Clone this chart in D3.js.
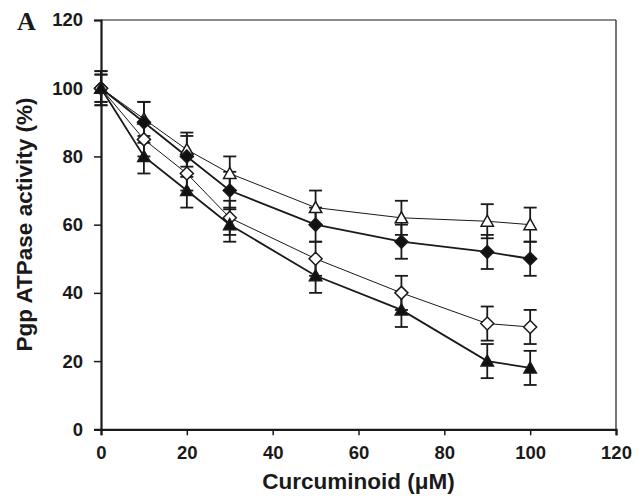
<!DOCTYPE html>
<html><head><meta charset="utf-8">
<script src="https://cdn.jsdelivr.net/npm/d3@7"></script>
<style>body{margin:0;background:#fff}svg{display:block}</style>
</head><body><svg id="c" width="642" height="496"></svg>
<script>
const concentrations = [0, 10, 20, 30, 50, 70, 90, 100];
const openTriangle = [100, 91, 82, 75, 65, 62, 61, 60];
const openTriangleErr = [5, 5, 5, 5, 5, 5, 5, 5];
const filledDiamond = [100, 90, 80, 70, 60, 55, 52, 50];
const filledDiamondErr = [5, 6, 6, 5.5, 5, 5, 5, 5];
const openDiamond = [100, 85, 75, 62, 50, 40, 31, 30];
const openDiamondErr = [4, 5, 5, 5, 5, 5, 5, 5];
const filledTriangle = [100, 80, 70, 60, 45, 35, 20, 18];
const filledTriangleErr = [4, 5, 5, 5, 5, 5, 5, 5];
const xTicks = [0, 20, 40, 60, 80, 100, 120];
const yTicks = [0, 20, 40, 60, 80, 100, 120];

const series = [
  {vals: openTriangle, err: openTriangleErr, shape: "tri", fill: "#fff", lw: 1},
  {vals: filledDiamond, err: filledDiamondErr, shape: "dia", fill: "#111", lw: 1.8},
  {vals: openDiamond, err: openDiamondErr, shape: "dia", fill: "#fff", lw: 1},
  {vals: filledTriangle, err: filledTriangleErr, shape: "tri", fill: "#111", lw: 1.8}
];

const svg = d3.select("#c");
const L = 101, R = 616, T = 20, B = 429.3;
const x = d3.scaleLinear().domain([0, 120]).range([L, R]);
const y = d3.scaleLinear().domain([0, 120]).range([B, T]);
const ink = "#1a1a1a";
const font = "Arial, 'Liberation Sans', Helvetica, sans-serif";

// frame top/right
svg.append("line").attr("x1", L).attr("x2", R).attr("y1", T).attr("y2", T).attr("stroke", ink).attr("stroke-width", 1.2);
svg.append("line").attr("x1", R).attr("x2", R).attr("y1", T).attr("y2", B).attr("stroke", ink).attr("stroke-width", 1.2);

// axes
const xAxis = svg.append("g").attr("transform", `translate(0,${B})`)
  .call(d3.axisBottom(x).tickValues(xTicks).tickSize(6).tickPadding(11).tickFormat(d3.format("d")));
const yAxis = svg.append("g").attr("transform", `translate(${L},0)`)
  .call(d3.axisLeft(y).tickValues(yTicks).tickSize(7).tickPadding(11).tickFormat(d3.format("d")));
[xAxis, yAxis].forEach(g => {
  g.select(".domain").attr("stroke", ink).attr("stroke-width", 2.2);
  g.selectAll(".tick line").attr("stroke", ink).attr("stroke-width", 1.5);
  g.selectAll(".tick text").attr("fill", ink).attr("font-family", font)
    .attr("font-weight", "bold").attr("font-size", "18.5px");
});
xAxis.selectAll(".tick text").attr("dy", "0.71em");

// error bars
series.forEach(s => {
  const g = svg.append("g").attr("stroke", ink).attr("stroke-width", 1.8);
  concentrations.forEach((c, i) => {
    const cx = x(c), hi = y(s.vals[i] + s.err[i]), lo = y(s.vals[i] - s.err[i]);
    g.append("line").attr("x1", cx).attr("x2", cx).attr("y1", hi).attr("y2", lo);
    g.append("line").attr("x1", cx - 6.5).attr("x2", cx + 6.5).attr("y1", hi).attr("y2", hi);
    g.append("line").attr("x1", cx - 6.5).attr("x2", cx + 6.5).attr("y1", lo).attr("y2", lo);
  });
});

// lines
const line = d3.line().x((d, i) => x(concentrations[i])).y(d => y(d));
series.forEach(s => {
  svg.append("path").datum(s.vals).attr("d", line).attr("fill", "none")
    .attr("stroke", ink).attr("stroke-width", s.lw);
});

// markers
const triPath = "M0,-6 L6.2,5 L-6.2,5 Z";
const diaPath = "M0,-6.5 L6.5,0 L0,6.5 L-6.5,0 Z";
series.forEach(s => {
  svg.append("g").selectAll("path").data(s.vals).join("path")
    .attr("d", s.shape === "tri" ? triPath : diaPath)
    .attr("transform", (d, i) => `translate(${x(concentrations[i])},${y(d)})`)
    .attr("fill", s.fill).attr("stroke", ink).attr("stroke-width", 1.5);
});

// labels
svg.append("text").attr("x", (L + R) / 2).attr("y", 489).attr("text-anchor", "middle")
  .attr("font-family", font).attr("font-weight", "bold").attr("font-size", "22.5px").attr("fill", ink)
  .text("Curcuminoid (μM)");
svg.append("text").attr("transform", `translate(32,${(97 + 352) / 2}) rotate(-90)`).attr("text-anchor", "middle")
  .attr("font-family", font).attr("font-weight", "bold").attr("font-size", "22.5px").attr("fill", ink)
  .text("Pgp ATPase activity (%)");
svg.append("text").attr("x", 17).attr("y", 30)
  .attr("font-family", "'Liberation Serif', 'Times New Roman', serif").attr("font-weight", "bold")
  .attr("font-size", "26px").attr("fill", ink).text("A");
</script></body></html>
